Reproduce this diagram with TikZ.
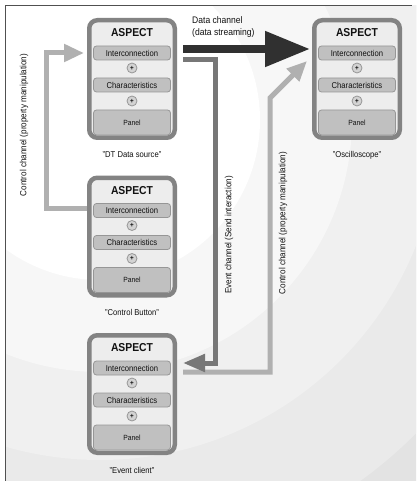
\documentclass[tikz,border=0pt]{standalone}
\usepackage{fontspec}
\setmainfont{Liberation Sans}[FakeStretch=0.9]
\usetikzlibrary{arrows.meta,calc}
\definecolor{bgA}{HTML}{FFFFFF}
\definecolor{bgB}{HTML}{F7F7F7}
\definecolor{bgC}{HTML}{F0F0F0}
\definecolor{bgD}{HTML}{EAEAEA}
\definecolor{bgE}{HTML}{E3E3E3}
\definecolor{boxline}{HTML}{838383}
\definecolor{boxfill}{HTML}{EDEDED}
\definecolor{barfill}{HTML}{C0C0C0}
\definecolor{barline}{HTML}{969696}
\definecolor{darkarrow}{HTML}{303030}
\definecolor{midarrow}{HTML}{777777}
\definecolor{lightarrow}{HTML}{B0B0B0}
\definecolor{framecol}{HTML}{505050}
\definecolor{txt}{HTML}{111111}
\newcommand\aspbox[3]{%
  \node[outerbox] (#1) at (#2) {};
  \node[asptitle] (#1t) at ($(#1.north)+(0,15)$) {ASPECT};
  \node[barbox] (#1i) at ($(#1.north)+(0,35)$) {Interconnection};
  \node[plusc] (#1p) at ($(#1.north)+(0,50)$) {+};
  \node[barbox] (#1c) at ($(#1.north)+(0,67)$) {Characteristics};
  \node[plusc] (#1q) at ($(#1.north)+(0,83)$) {+};
  \node[panelbox] (#1a) at ($(#1.north)+(0,104.5)$) {Panel};
  \node[boxlab] (#1l) at ($(#1.north)+(0,137)$) {#3};
}
\begin{document}
\begin{tikzpicture}[x=1pt,y=-1pt,
  outerbox/.style={draw=boxline,fill=boxfill,line width=4.5pt,rounded corners=8pt,
    minimum width=85.5pt,minimum height=117.5pt,outer sep=2.25pt,inner sep=0pt},
  asptitle/.style={font=\fontsize{11.5}{11.5}\selectfont\bfseries,text=txt,inner sep=0pt},
  barbox/.style={draw=barline,fill=barfill,line width=0.8pt,rounded corners=3pt,
    minimum width=77pt,minimum height=14pt,inner sep=0pt,
    font=\fontsize{8.5}{8.5}\selectfont,text=txt},
  panelbox/.style={draw=barline,fill=barfill,line width=0.8pt,rounded corners=3pt,
    minimum width=77pt,minimum height=25pt,inner sep=0pt,
    font=\fontsize{7.5}{7.5}\selectfont,text=txt},
  plusc/.style={circle,draw=barline,fill=barfill!70!white,line width=0.8pt,minimum size=10pt,
    inner sep=0pt,font=\fontsize{7}{7}\selectfont\bfseries,text=txt},
  boxlab/.style={font=\fontsize{8.5}{8.5}\selectfont,text=txt,inner sep=0pt},
  rlab/.style={font=\fontsize{9}{9}\selectfont,text=txt,inner sep=0pt,rotate=90},
  dlab/.style={font=\fontsize{9.5}{12.5}\selectfont,text=txt,inner sep=0pt,align=left,anchor=north west},
  datach/.style={draw=darkarrow,line width=8pt,-{Triangle[length=45pt,width=34pt]}},
  evch/.style={draw=midarrow,line width=5pt,line join=miter,-{Triangle[length=22pt,width=17pt]}},
  ctlch/.style={draw=lightarrow,line width=5pt,line join=miter,-{Triangle[length=20pt,width=17pt]}},
  frameline/.style={draw=framecol,line width=1.2pt}
]
\useasboundingbox (0,0) rectangle (416,481);
\fill[white] (0,0) rectangle (416,481);
\begin{scope}
  \clip (5.5,5.5) rectangle (416,481);
  \fill[bgE] (100,120) circle (700pt);
  \fill[bgD] (100,120) circle (445pt);
  \fill[bgC] (100,120) circle (340pt);
  \fill[bgB] (100,120) circle (252pt);
  \fill[bgA] (100,120) circle (160pt);
\end{scope}
\draw[frameline] (5.5,481) -- (5.5,5.5) -- (412,5.5);

\aspbox{ds}{132,79}{"DT Data source"}
\aspbox{osc}{357,79}{"Oscilloscope"}
\aspbox{cb}{132,236.5}{"Control Button"}
\aspbox{ec}{132,394}{"Event client"}

% control channel (left)
\coordinate (cl1) at ($(cb.north west)+(-41,33)$);
\coordinate (cl2) at ($(ds.north west)+(-41,35)$);
\draw[ctlch] ($(cb.north west)+(0,33)$) -- (cl1) -- (cl2) -- ($(ds.north west)+(-3,35)$);

% control channel (right)
\coordinate (cr1) at ($(ec.north east)+(93,39)$);
\coordinate (cr2) at ($(osc.north west)+(-42,80)$);
\draw[ctlch] ($(ec.north east)+(6,39)$) -- (cr1) -- (cr2) -- ($(osc.north west)+(-5,43)$);

% event channel
\coordinate (evtop) at ($(ds.north east)+(38,42)$);
\draw[evch] ($(ds.north east)+(6,42)$) -- (evtop) |- ($(ec.north east)+(6,30)$);

% data channel
\draw[datach] ($(ds.north east)+(6,31)$) -- ($(osc.north west)+(-2,31)$);

\node[dlab] (dcl) at (192,16) {Data channel\\(data streaming)};
\node[rlab] (lcl) at (24,125) {Control channel (property manipulation)};
\node[rlab] (ecl) at (229,235) {Event channel (Send interaction)};
\node[rlab] (rcl) at (283,223) {Control channel (property manipulation)};
\end{tikzpicture}
\end{document}
